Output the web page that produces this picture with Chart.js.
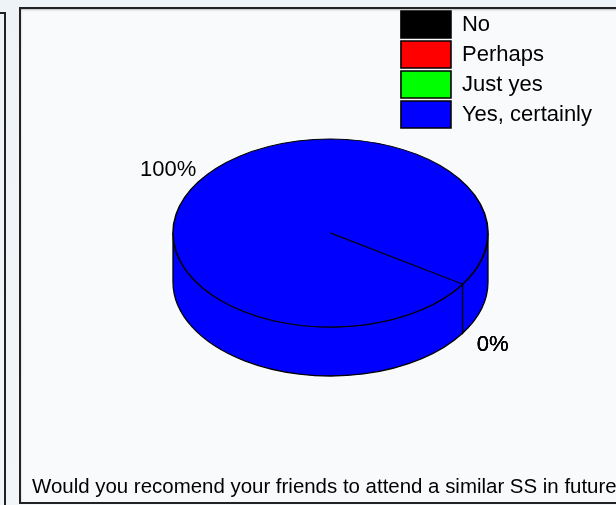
<!DOCTYPE html>
<html>
<head>
<meta charset="utf-8">
<script src="https://cdn.jsdelivr.net/npm/chart.js@4.4.0/dist/chart.umd.min.js"></script>
<style>
  html, body { margin: 0; padding: 0; }
  body {
    width: 616px; height: 505px; overflow: hidden; position: relative;
    background: linear-gradient(180deg, #eef3f7 0%, #f3f6f9 100%);
    font-family: 'Liberation Sans', Arial, sans-serif;
  }
  #side {
    position: absolute; left: -12px; top: 12px; width: 14px; height: 600px;
    border: 2px solid #222;
  }
  #frame {
    position: absolute; left: 19px; top: 7px; width: 640px; height: 493px;
    border: 2px solid #222; background: #f8fafc;
    box-shadow: inset 0 1px 2px rgba(0, 0, 0, 0.25);
  }
  #caption {
    position: absolute; left: 32px; top: 475px;
    font-size: 20.45px; line-height: 21px; white-space: nowrap; color: #000;
  }
  #chart { position: absolute; left: 0; top: 0; }
</style>
</head>
<body>
<div id="side"></div>
<div id="frame"></div>
<canvas id="chart" width="616" height="505"></canvas>
<div id="caption">Would you recomend your friends to attend a similar SS in future</div>
<script>
// answers and their share (%)
const labels = ['No', 'Perhaps', 'Just yes', 'Yes, certainly'];
const percentages = [0, 0, 0, 100];
const sliceColors = ['#000000', '#ff0000', '#00ff00', '#0000ff'];

const FONT = "'Liberation Sans', Arial, sans-serif";
const TILT = 94 / 157.5;  // ellipse height / width
const DEPTH = 49;         // thickness of the pie

// parts of an arc that lie on the front (lower) half of the ellipse
function frontSpans(start, end) {
  const spans = [];
  const TAU = Math.PI * 2;
  for (let k = Math.floor(start / TAU) - 1; k <= Math.floor(end / TAU) + 1; k++) {
    const lo = Math.max(start, k * TAU);
    const hi = Math.min(end, k * TAU + Math.PI);
    if (hi > lo) spans.push([lo, hi]);
  }
  return spans;
}

// Fake 3D: draw the side wall, then squash the library's pie into an ellipse
const pie3d = {
  id: 'pie3d',
  beforeDatasetsDraw(chart) {
    const ctx = chart.ctx;
    const arcs = chart.getDatasetMeta(0).data;
    const { x: cx, y: cy, outerRadius: rx } = arcs[0];
    const ry = rx * TILT;

    ctx.save();
    ctx.lineWidth = 1.3;
    ctx.strokeStyle = '#000';
    arcs.forEach((arc) => {
      frontSpans(arc.startAngle, arc.endAngle).forEach(([a, b]) => {
        ctx.beginPath();
        ctx.ellipse(cx, cy + DEPTH, rx, ry, 0, a, b);
        ctx.ellipse(cx, cy, rx, ry, 0, b, a, true);
        ctx.closePath();
        ctx.fillStyle = arc.options.backgroundColor;
        ctx.fill();
        ctx.stroke();
      });
    });
    ctx.restore();

    ctx.save();
    ctx.translate(cx, cy);
    ctx.scale(1, TILT);
    ctx.translate(-cx, -cy);
  },
  afterDatasetsDraw(chart) {
    const ctx = chart.ctx;
    ctx.restore();

    const arcs = chart.getDatasetMeta(0).data;
    const { x: cx, y: cy, outerRadius: rx } = arcs[0];
    const ry = rx * TILT;

    ctx.save();
    ctx.font = '22px ' + FONT;
    ctx.fillStyle = '#000';
    ctx.textAlign = 'center';
    ctx.textBaseline = 'middle';
    arcs.forEach((arc, i) => {
      const mid = (arc.startAngle + arc.endAngle) / 2;
      const c = Math.cos(mid), s = Math.sin(mid);
      const bx = cx + rx * c;
      const by = cy + ry * s + (s > 0 ? DEPTH : 0);
      ctx.fillText(percentages[i] + '%', bx + c * 36, by + s * 22);
    });
    ctx.restore();
  }
};

new Chart(document.getElementById('chart'), {
  type: 'pie',
  data: {
    labels: labels,
    datasets: [{
      data: percentages,
      backgroundColor: sliceColors,
      borderColor: '#000',
      borderWidth: 1.6,
      clip: false
    }]
  },
  options: {
    responsive: false,
    animation: false,
    radius: 157.5,
    rotation: 123,
    layout: {
      padding: { left: 263, right: 14, top: 8, bottom: 47 }
    },
    plugins: {
      legend: {
        position: 'right',
        align: 'start',
        maxWidth: 240,
        labels: {
          boxWidth: 50,
          boxHeight: 27,
          padding: 3,
          color: '#000',
          font: { size: 22, family: FONT }
        }
      },
      title: { display: false },
      tooltip: { enabled: false }
    }
  },
  plugins: [pie3d]
});
</script>
</body>
</html>
